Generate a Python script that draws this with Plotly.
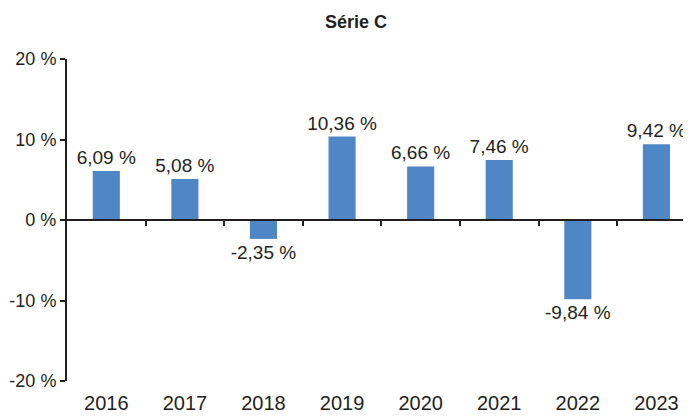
import plotly.graph_objects as go

years = ["2016", "2017", "2018", "2019", "2020", "2021", "2022", "2023"]
values = [6.09, 5.08, -2.35, 10.36, 6.66, 7.46, -9.84, 9.42]
y_ticks = [-20, -10, 0, 10, 20]
title = "Série C"

labels = [f"{v:.2f} %".replace(".", ",") for v in values]
y_tick_text = [f"{v} %" for v in y_ticks]
ink = "#231f20"
font = "Liberation Sans, Arial, sans-serif"
x_range = [-0.5, 7.44]

fig = go.Figure()
fig.add_trace(go.Bar(
    x=years, y=values, text=labels, textposition="outside", constraintext="none",
    textfont=dict(size=19, color=ink, family=font),
    marker=dict(color="#4f86c6", line=dict(width=0)),
    width=0.345, cliponaxis=False, hoverinfo="skip",
))
# invisible trace to carry the zero-line axis with category-boundary ticks
fig.add_trace(go.Scatter(x=[0], y=[0], xaxis="x2", yaxis="y", mode="markers",
                         marker=dict(opacity=0), showlegend=False, hoverinfo="skip"))

fig.update_layout(
    width=683, height=410,
    margin=dict(l=59, r=0, t=51, b=37, autoexpand=False),
    paper_bgcolor="white", plot_bgcolor="white",
    showlegend=False,
    title=dict(text=f"<b>{title}</b>", x=348/683, xanchor="center", y=1 - 14/410, yanchor="middle",
               font=dict(size=18, color=ink, family=font)),
    font=dict(family=font, color=ink, size=18),
    uniformtext=dict(mode=False),
    xaxis=dict(type="category", showline=False, ticks="", showgrid=False, zeroline=False,
               tickfont=dict(size=20, color=ink), range=x_range, automargin=False,
               ticklabelstandoff=8),
    xaxis2=dict(overlaying="x", anchor="free", position=0.5, range=x_range,
                showline=True, linecolor=ink, linewidth=2,
                ticks="outside", ticklen=5, tickwidth=2, tickcolor=ink,
                tickvals=[i + 0.5 for i in range(len(years) - 1)],
                showticklabels=False, showgrid=False, zeroline=False),
    yaxis=dict(range=[-20, 20], tickmode="array", tickvals=y_ticks, ticktext=y_tick_text,
               showline=True, linecolor=ink, linewidth=2, automargin=False,
               ticks="outside", ticklen=5, tickwidth=2, tickcolor=ink,
               showgrid=False, zeroline=False, tickfont=dict(size=18, color=ink)),
)

fig.write_html("out.html")
